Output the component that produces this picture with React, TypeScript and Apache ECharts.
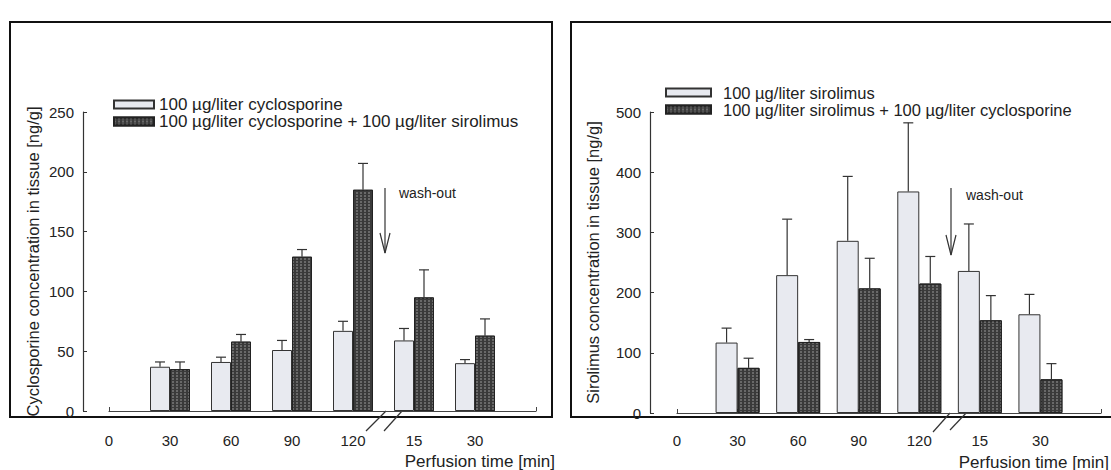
import React, { useEffect, useRef } from 'react';
import * as echarts from 'echarts';

// ---- data ----
const timeLabels = ['0', '30', '60', '90', '120', '15', '30', ''];
const cycloAlone = [null, 37, 41, 51, 67, 59, 40, null];
const cycloAloneErr = [null, 41, 45, 59, 75, 69, 43, null];
const cycloCombo = [null, 35, 58, 129, 185, 95, 63, null];
const cycloComboErr = [null, 41, 64, 135, 207, 118, 77, null];
const siroAlone = [null, 117, 229, 286, 368, 236, 164, null];
const siroAloneErr = [null, 141, 322, 393, 482, 314, 197, null];
const siroCombo = [null, 75, 118, 207, 215, 154, 56, null];
const siroComboErr = [null, 91, 122, 257, 260, 195, 82, null];

const leftNames = ['100 µg/liter cyclosporine', '100 µg/liter cyclosporine + 100 µg/liter sirolimus'];
const rightNames = ['100 µg/liter sirolimus', '100 µg/liter sirolimus + 100 µg/liter cyclosporine'];
const xName = 'Perfusion time [min]';
const leftTicks = { min: 0, max: 250, interval: 50 };
const rightTicks = { min: 0, max: 500, interval: 100 };

const FONT = '"Liberation Sans", Arial, sans-serif';
const INK = '#222';

const lightStyle = { color: '#e8eaf0', borderColor: '#333', borderWidth: 1 };
const darkStyle = {
  color: '#3a3a3a',
  borderColor: '#222',
  borderWidth: 1,
  decal: {
    symbol: 'rect',
    symbolSize: 0.7,
    color: 'rgba(255,255,255,0.45)',
    dashArrayX: [2, 2],
    dashArrayY: [2, 1],
  },
};

function barSeries(name: string, xi: number, vals: (number | null)[], style: any, barW: number) {
  return {
    type: 'bar',
    name,
    xAxisIndex: xi,
    yAxisIndex: xi,
    data: vals,
    barWidth: barW,
    barGap: '0%',
    itemStyle: style,
    z: 2,
  };
}

function errSeries(xi: number, vals: (number | null)[], errs: (number | null)[], side: number, barW: number) {
  const data: any[] = [];
  vals.forEach((v, i) => {
    if (v != null && errs[i] != null) data.push([i, v, errs[i]]);
  });
  return {
    type: 'custom',
    xAxisIndex: xi,
    yAxisIndex: xi,
    silent: true,
    z: 3,
    encode: { x: 0, y: [1, 2] },
    data,
    renderItem: (params: any, api: any) => {
      const i = api.value(0);
      const top = api.coord([i, api.value(1)]);
      const end = api.coord([i, api.value(2)]);
      const cx = top[0] + (side * barW) / 2;
      const st = { stroke: '#333', lineWidth: 1.2 };
      return {
        type: 'group',
        children: [
          { type: 'line', shape: { x1: cx, y1: top[1], x2: cx, y2: end[1] }, style: st },
          { type: 'line', shape: { x1: cx - 5, y1: end[1], x2: cx + 5, y2: end[1] }, style: st },
        ],
      };
    },
  };
}

function xAxisDef(gi: number, offset: number) {
  return {
    type: 'category',
    gridIndex: gi,
    data: timeLabels,
    boundaryGap: false,
    offset,
    axisLine: { lineStyle: { color: '#444', width: 1.2 } },
    axisTick: { inside: true, length: 4, lineStyle: { color: '#444' } },
    axisLabel: { color: INK, fontSize: 15, fontFamily: FONT, margin: 11, interval: 0 },
    splitLine: { show: false },
  };
}

function yAxisDef(gi: number, ticks: any, offset: number, name: string, nameGap: number) {
  return {
    type: 'value',
    gridIndex: gi,
    ...ticks,
    offset,
    axisLine: { show: true, lineStyle: { color: '#333', width: 1.2 } },
    axisTick: { show: true, inside: true, length: 4, lineStyle: { color: '#333' } },
    axisLabel: { color: INK, fontSize: 15, fontFamily: FONT, margin: 9 },
    splitLine: { show: false },
    name,
    nameLocation: 'middle',
    nameGap,
    nameTextStyle: { color: INK, fontSize: 16.5, fontFamily: FONT },
  };
}

export default function App() {
  const ref = useRef<HTMLDivElement>(null);
  useEffect(() => {
    if (!ref.current) return;
    const chart = echarts.init(ref.current, null, { renderer: 'svg' });
    const lineSt = { stroke: '#333', lineWidth: 1.2 };
    const option: any = {
      animation: false,
      backgroundColor: '#ffffff',
      textStyle: { fontFamily: FONT },
      grid: [
        { left: 109, top: 112, width: 427, height: 299, outerBoundsMode: 'none', containLabel: false },
        { left: 677, top: 112, width: 424, height: 301, outerBoundsMode: 'none', containLabel: false },
      ],
      xAxis: [xAxisDef(0, 11), xAxisDef(1, 9)],
      yAxis: [
        yAxisDef(0, leftTicks, 26, 'Cyclosporine concentration in tissue [ng/g]', 42),
        yAxisDef(1, rightTicks, 27, 'Sirolimus concentration in tissue [ng/g]', 49),
      ],
      legend: [
        {
          data: leftNames,
          orient: 'vertical',
          left: 113,
          top: 96,
          padding: 0,
          itemWidth: 40,
          itemHeight: 8,
          itemGap: 0,
          icon: 'rect',
          selectedMode: false,
          textStyle: { color: INK, fontSize: 17, fontFamily: FONT, lineHeight: 17 },
        },
        {
          data: rightNames,
          orient: 'vertical',
          left: 665,
          top: 84,
          padding: 0,
          itemWidth: 45,
          itemHeight: 8,
          itemGap: 0,
          icon: 'rect',
          selectedMode: false,
          textStyle: { color: INK, fontSize: 16.5, fontFamily: FONT, lineHeight: 15, padding: [0, 0, 0, 7] },
        },
      ],
      series: [
        barSeries(leftNames[0], 0, cycloAlone, lightStyle, 20),
        barSeries(leftNames[1], 0, cycloCombo, darkStyle, 20),
        errSeries(0, cycloAlone, cycloAloneErr, -1, 20),
        errSeries(0, cycloCombo, cycloComboErr, 1, 20),
        barSeries(rightNames[0], 1, siroAlone, lightStyle, 22),
        barSeries(rightNames[1], 1, siroCombo, darkStyle, 22),
        errSeries(1, siroAlone, siroAloneErr, -1, 22),
        errSeries(1, siroCombo, siroComboErr, 1, 22),
      ],
      graphic: [
        // panel frames
        { type: 'rect', shape: { x: 10, y: 22, width: 542, height: 395 }, style: { fill: 'none', stroke: '#111', lineWidth: 2 }, silent: true },
        { type: 'rect', shape: { x: 571, y: 22, width: 560, height: 395 }, style: { fill: 'none', stroke: '#111', lineWidth: 2 }, silent: true },
        // x axis titles
        { type: 'text', x: 555, y: 461, style: { text: xName, fontSize: 17, fontFamily: FONT, fill: INK, align: 'right', verticalAlign: 'middle' } },
        { type: 'text', x: 1109, y: 462, style: { text: xName, fontSize: 17, fontFamily: FONT, fill: INK, align: 'right', verticalAlign: 'middle' } },
        // axis break marks
        { type: 'line', shape: { x1: 366, y1: 431, x2: 386, y2: 411 }, style: lineSt },
        { type: 'line', shape: { x1: 384, y1: 431, x2: 402, y2: 411 }, style: lineSt },
        { type: 'line', shape: { x1: 933, y1: 432, x2: 950, y2: 413 }, style: lineSt },
        { type: 'line', shape: { x1: 950, y1: 430, x2: 968, y2: 411 }, style: lineSt },
        // wash-out arrows
        { type: 'line', shape: { x1: 385, y1: 188, x2: 385, y2: 253 }, style: lineSt },
        { type: 'polyline', shape: { points: [[380, 233], [385, 253], [390, 233]] }, style: { ...lineSt, fill: 'none' } },
        { type: 'text', x: 399, y: 193, style: { text: 'wash-out', fontSize: 14, fontFamily: FONT, fill: INK, verticalAlign: 'middle' } },
        { type: 'line', shape: { x1: 951, y1: 188, x2: 951, y2: 255 }, style: lineSt },
        { type: 'polyline', shape: { points: [[946, 235], [951, 255], [956, 235]] }, style: { ...lineSt, fill: 'none' } },
        { type: 'text', x: 966, y: 195, style: { text: 'wash-out', fontSize: 14, fontFamily: FONT, fill: INK, verticalAlign: 'middle' } },
      ],
    };
    chart.setOption(option);
    return () => chart.dispose();
  }, []);
  return (
    <div
      ref={ref}
      style={{ position: 'fixed', left: 0, top: 0, width: 1111, height: 470 }}
    />
  );
}
